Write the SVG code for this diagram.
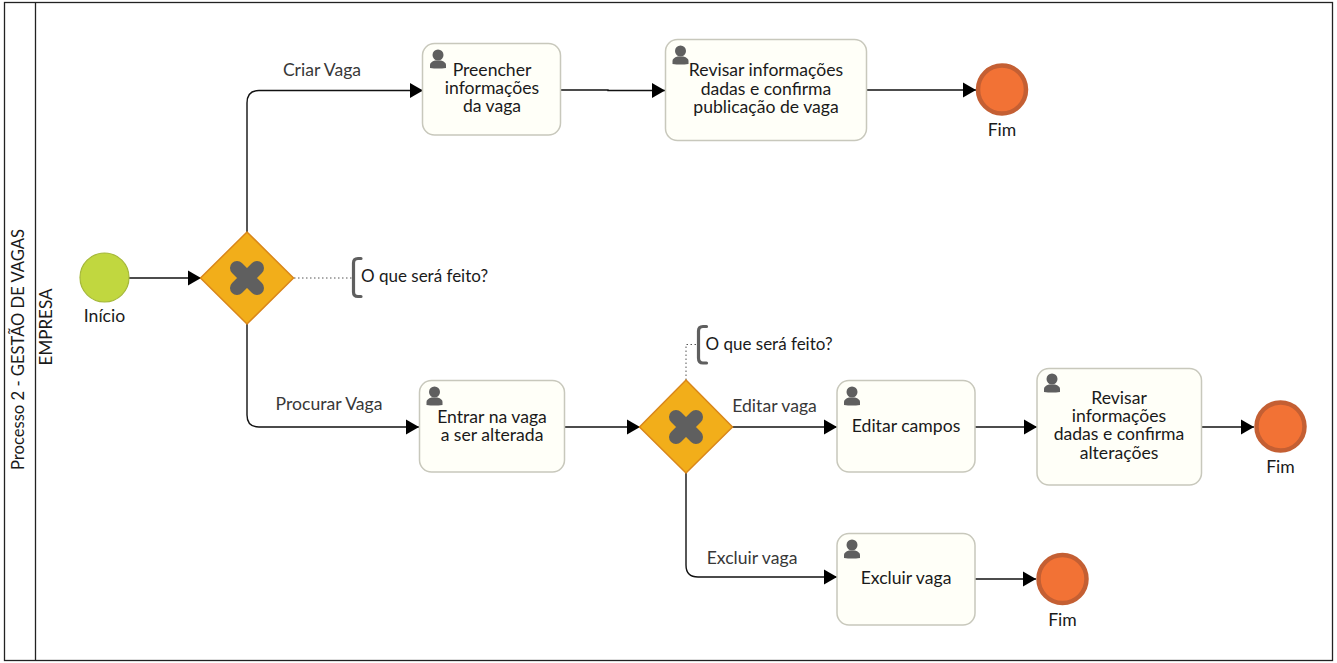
<svg xmlns="http://www.w3.org/2000/svg" width="1337" height="663" viewBox="0 0 1337 663">
<style>
text{font-family:"Lato","Liberation Sans",sans-serif;font-size:17.600px;fill:#1a1a1a;text-anchor:middle}
.lbl{fill:#383838}
.n{font-size:17px}
.r{font-size:16.600px}
.task{fill:#fffff8;stroke:#c8c8bc;stroke-width:1.5}
.gw{fill:#f2ae1a;stroke:#d9861a;stroke-width:1.5}
.x{stroke:#5f5f5f;stroke-width:14;stroke-linecap:round;fill:none}
.end{fill:#f27235;stroke:#c45f33;stroke-width:4.5}
.user{fill:#5f5f5f}
.c{fill:none;stroke:#111;stroke-width:1.4;marker-end:url(#a)}
.d{fill:none;stroke:#555;stroke-width:1;stroke-dasharray:1.5 2.5}
.b{fill:none;stroke:#5f5f5f;stroke-width:3.200;stroke-linecap:round;stroke-linejoin:round}
</style>
<defs>
<marker id="a" markerUnits="userSpaceOnUse" markerWidth="14" markerHeight="16" refX="13" refY="8" orient="auto"><path d="M0 0.5L13 8L0 15.500Z" fill="#000"/></marker>
<g id="u"><circle cx="0" cy="-4" r="5.500" class="user"/><path class="user" d="M-8 9V6Q-8 3-3 1.500H3Q8 3 8 6V9Q0 10-8 9Z"/></g>
</defs>
<rect width="1337" height="663" fill="#fff"/>
<g id="pool"><rect x="4.500" y="2.500" width="1328" height="658" fill="#fff" stroke="#222" stroke-width="1.3"/><line x1="35.500" y1="2.500" x2="35.500" y2="660.500" stroke="#222" stroke-width="1.300"/>
<text class="r" transform="translate(24 349.500) rotate(-90)">Processo 2 - GESTÃO DE VAGAS</text>
<text class="n" transform="translate(52 327) rotate(-90)">EMPRESA</text></g>
<g id="connectors">
<path class="c" d="M129 278H201"/>
<path class="c" d="M247 232V103Q247 90.500 259 90.500H423"/>
<path class="c" d="M247 324V415Q247 427 259 427H419"/>
<path class="c" d="M561 90H608V90.500H665"/>
<path class="c" d="M867 90H976"/>
<path class="c" d="M564 427H640"/>
<path class="c" d="M732 427H837"/>
<path class="c" d="M686 473V565Q686 577 698 577H837"/>
<path class="c" d="M975 427H1037"/>
<path class="c" d="M1201 427H1254"/>
<path class="c" d="M975 579H1036"/>
<path class="d" d="M294 278H352"/>
<path class="d" d="M686 380V344.500H697"/>
</g>
<g id="start"><circle cx="104.500" cy="277.500" r="24.500" fill="#c1d73f" stroke="#a5b83a" stroke-width="1.200"/><text x="104.500" y="322">Início</text></g>
<g id="gw1"><path class="gw" d="M247 232L293.500 278L247 324L200.500 278Z"/><path class="x" d="M237 268L257 288M257 268L237 288"/></g>
<g id="gw2"><path class="gw" d="M686 380L732.500 427L686 473L639.500 427Z"/><path class="x" d="M676 417L696 437M696 417L676 437"/></g>
<g id="note1"><path class="b" d="M361 258.500H358Q353.500 258.500 353.500 263V292Q353.500 296.500 358 296.500H361"/><text class="n" x="424.500" y="282">O que será feito?</text></g>
<g id="note2"><path class="b" d="M706.500 326.500H703Q698.500 326.500 698.500 331V358Q698.500 363 703 363H706.500"/><text class="n" x="769" y="350">O que será feito?</text></g>
<g id="t1"><rect class="task" x="422.500" y="43.500" width="138" height="91.500" rx="12"/><use href="#u" x="438" y="59"/><text x="492" y="76"><tspan x="492" y="76">Preencher</tspan><tspan x="492" y="94">informações</tspan><tspan x="492" y="112">da vaga</tspan></text></g>
<g id="t2"><rect class="task" x="665.500" y="39.500" width="201" height="101" rx="12"/><use href="#u" x="680.500" y="55"/><text><tspan x="766" y="76">Revisar informações</tspan><tspan x="766" y="95">dadas e confirma</tspan><tspan x="766" y="113">publicação de vaga</tspan></text></g>
<g id="t3"><rect class="task" x="419.500" y="380.500" width="145" height="91.500" rx="12"/><use href="#u" x="434.500" y="396"/><text><tspan x="492" y="423">Entrar na vaga</tspan><tspan x="492" y="441">a ser alterada</tspan></text></g>
<g id="t4"><rect class="task" x="837" y="380.500" width="138" height="91.500" rx="12"/><use href="#u" x="852" y="396"/><text x="906" y="432">Editar campos</text></g>
<g id="t5"><rect class="task" x="1037" y="368.500" width="164.500" height="116.500" rx="12"/><use href="#u" x="1052" y="383"/><text><tspan x="1119" y="404">Revisar</tspan><tspan x="1119" y="422">informações</tspan><tspan x="1119" y="440">dadas e confirma</tspan><tspan x="1119" y="459">alterações</tspan></text></g>
<g id="t6"><rect class="task" x="837" y="533.500" width="138" height="91.500" rx="12"/><use href="#u" x="852" y="549"/><text x="906" y="584">Excluir vaga</text></g>
<g id="e1"><circle class="end" cx="1002" cy="89.500" r="24"/><text x="1002" y="136">Fim</text></g>
<g id="e2"><circle class="end" cx="1280.500" cy="426.500" r="24"/><text x="1280.500" y="473">Fim</text></g>
<g id="e3"><circle class="end" cx="1062.500" cy="579" r="24"/><text x="1062.500" y="626">Fim</text></g>
<g id="labels"><text class="lbl" x="322" y="76">Criar Vaga</text><text class="lbl" x="329" y="410">Procurar Vaga</text><text class="lbl" x="774.500" y="412">Editar vaga</text><text class="lbl" x="752" y="564">Excluir vaga</text></g>
</svg>
